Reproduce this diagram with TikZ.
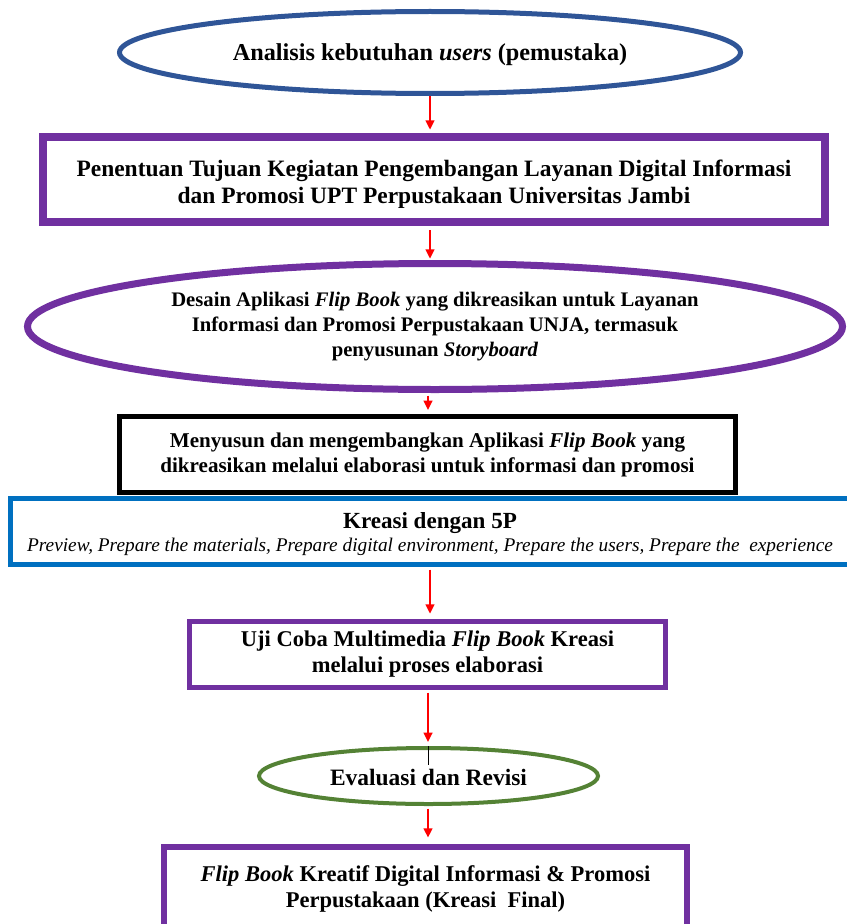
\documentclass[tikz,border=0pt]{standalone}
\usepackage{fontspec}
\setmainfont{Liberation Serif}
\usetikzlibrary{shapes.geometric,arrows.meta}
\definecolor{eblue}{HTML}{2F5597}
\definecolor{vpurple}{HTML}{7030A0}
\definecolor{rblue}{HTML}{0070C0}
\definecolor{egreen}{HTML}{548235}
\begin{document}
\begin{tikzpicture}[x=0.75pt,y=-0.75pt,
  box/.style={draw,rectangle,inner sep=0pt,align=center,font=\bfseries},
  oval/.style={draw,ellipse,inner sep=0pt,align=center,font=\bfseries},
  flow/.style={red,line width=1.6pt,-{Triangle[length=7pt,width=6.5pt]}},
  tick/.style={black,line width=0.8pt}]
\useasboundingbox (0,0) rectangle (846,924);
\coordinate (ax) at (430,0);
\coordinate (bx) at (428,0);

\node[oval,eblue,line width=3.75pt,minimum width=465.75pt,minimum height=61.5pt,text=black,
  font=\bfseries\fontsize{18.2pt}{21pt}\selectfont] (e1) at (430,52.5)
  {\rule{0pt}{16pt}Analisis kebutuhan \textit{users} (pemustaka)};

\node[box,vpurple,line width=6pt,minimum width=586.5pt,minimum height=63.75pt,text=black,
  font=\bfseries\fontsize{17.6pt}{20.3pt}\selectfont] (r2) at (434,179.5)
  {\rule{0pt}{19.5pt}Penentuan Tujuan Kegiatan Pengembangan Layanan Digital Informasi\\dan Promosi UPT Perpustakaan Universitas Jambi};

\node[oval,vpurple,line width=5.25pt,minimum width=611.25pt,minimum height=94.5pt,text=black,
  font=\bfseries\fontsize{15.5pt}{18.5pt}\selectfont] (e3) at (435,326.5)
  {Desain Aplikasi \textit{Flip Book} yang dikreasikan untuk Layanan\\Informasi dan Promosi Perpustakaan UNJA, termasuk\\penyusunan \textit{Storyboard}};

\node[box,rblue,line width=3.75pt,minimum width=629.25pt,minimum height=49.5pt,text=black] (r5) at (430,531.5)
  {{\bfseries\fontsize{17.3pt}{18pt}\selectfont\rule{0pt}{16pt}Kreasi dengan 5P}\\[2pt]
   {\mdseries\itshape\fontsize{14.5pt}{16pt}\selectfont Preview, Prepare the materials, Prepare digital environment, Prepare the users, Prepare the\ \ experience}};

\node[box,black,line width=3.75pt,minimum width=462pt,minimum height=57pt,
  font=\bfseries\fontsize{15.8pt}{18.8pt}\selectfont] (r4) at (427.5,454.5)
  {Menyusun dan mengembangkan Aplikasi \textit{Flip Book} yang\\dikreasikan melalui elaborasi untuk informasi dan promosi};

\node[box,vpurple,line width=3.75pt,minimum width=357pt,minimum height=49.5pt,text=black,
  font=\bfseries\fontsize{16.9pt}{19.5pt}\selectfont] (r6) at (427.5,654.5)
  {Uji Coba Multimedia \textit{Flip Book} Kreasi\\melalui proses elaborasi};

\node[oval,egreen,line width=3pt,minimum width=254.25pt,minimum height=42pt,text=black,
  font=\bfseries\fontsize{17.6pt}{20pt}\selectfont] (e7) at (428.5,776)
  {\rule{0pt}{15pt}Evaluasi dan Revisi};

\node[box,vpurple,line width=4.5pt,minimum width=392.25pt,minimum height=62.6pt,text=black,
  font=\bfseries\fontsize{16.9pt}{20pt}\selectfont] (r8) at (425.5,889)
  {\textit{Flip Book} Kreatif Digital Informasi \& Promosi\\Perpustakaan (Kreasi\ \ Final)};

\draw[flow,shorten >=2.5pt] (e1.south -| ax) -- (r2.north -| ax);
\draw[flow,shorten <=3pt,shorten >=1pt] (r2.south -| ax) -- (e3.north -| ax);
\draw[flow,shorten <=2pt,shorten >=3pt] (e3.south -| bx) -- (r4.north -| bx);
\draw[flow,shorten <=2pt,shorten >=4pt] (r5.south -| ax) -- (r6.north -| ax);
\draw[flow,shorten <=2pt,shorten >=3pt] (r6.south -| bx) -- (e7.north -| bx);
\draw[flow,shorten <=2pt,shorten >=5pt] (e7.south -| bx) -- (r8.north -| bx);
\draw[tick] (e7.north) -- ++(0,19);
\end{tikzpicture}
\end{document}
